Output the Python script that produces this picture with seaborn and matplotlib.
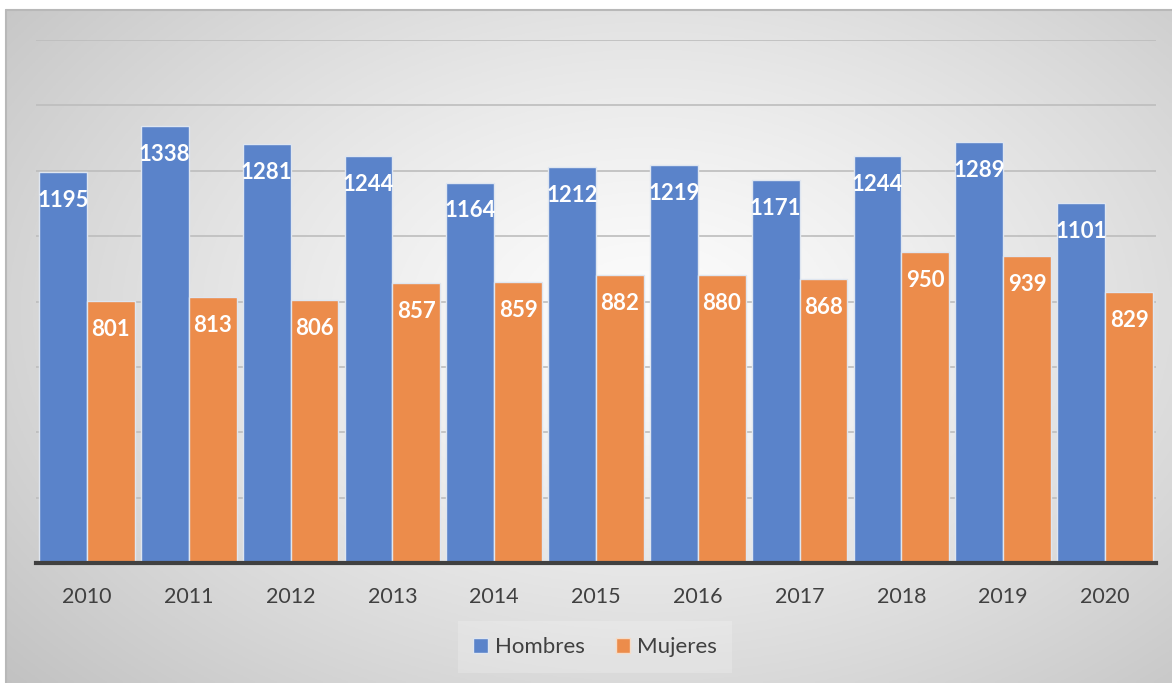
import numpy as np
import pandas as pd
import matplotlib
matplotlib.use("Agg")
import matplotlib.pyplot as plt
import seaborn as sns
from matplotlib.patches import Patch

years = ["2010", "2011", "2012", "2013", "2014", "2015", "2016", "2017", "2018", "2019", "2020"]
hombres = [1195, 1338, 1281, 1244, 1164, 1212, 1219, 1171, 1244, 1289, 1101]
mujeres = [801, 813, 806, 857, 859, 882, 880, 868, 950, 939, 829]
series_names = ["Hombres", "Mujeres"]

BLUE = "#5A83CA"
ORANGE = "#EC8C4B"
TEXT = "#404040"

df = pd.DataFrame({
    "year": years * 2,
    "value": hombres + mujeres,
    "sex": [series_names[0]] * len(years) + [series_names[1]] * len(years),
})

sns.set_theme(style="white")
plt.rcParams["font.family"] = ["Lato", "DejaVu Sans"]

W, H = 1172, 683
fig = plt.figure(figsize=(W / 100, H / 100), dpi=100)
fig.patch.set_facecolor("white")

# background radial gradient
bg = fig.add_axes([6 / W, 0, 1 - 6 / W, (H - 10) / H], zorder=0)
nx, ny = 400, 240
xx, yy = np.meshgrid(np.linspace(0, 1, nx), np.linspace(0, 1, ny))
cx, cy = 0.55, 0.45
d = np.sqrt(((xx - cx) / 0.75) ** 2 + ((yy - cy) / 0.85) ** 2)
d = np.clip(d, 0, 1.0)
v = 252 - (252 - 192) * d ** 1.3
img = np.dstack([v, v, v]) / 255.0
bg.imshow(img, aspect="auto", extent=[0, 1, 0, 1], origin="upper")
bg.set_axis_off()
bg.plot([0, 1], [1, 1], color="#b8b8b8", lw=1.5, transform=bg.transAxes, clip_on=False)
bg.plot([0, 0], [0, 1], color="#b8b8b8", lw=1.5, transform=bg.transAxes, clip_on=False)

ax = fig.add_axes([36 / W, (H - 563) / H, (1156 - 36) / W, (563 - 40) / H], zorder=1)
ax.patch.set_alpha(0)

sns.barplot(data=df, x="year", y="value", hue="sex", palette=[BLUE, ORANGE],
            width=0.94, saturation=1, edgecolor="#dfe6f0", linewidth=1.0,
            ax=ax, legend=False, zorder=2)

ax.set_ylim(0, 1600)
ax.set_xlim(-0.5, len(years) - 0.5)
ax.set_yticks(np.arange(0, 1601, 200))
ax.yaxis.grid(True, color="#bdbdbd", lw=1.2, zorder=0)
ax.set_axisbelow(True)
ax.set_yticklabels([])
ax.tick_params(axis="y", length=0)
ax.tick_params(axis="x", length=0, pad=17, labelsize=15.5, labelcolor=TEXT)
ax.set_xlabel("")
ax.set_ylabel("")
for s in ["top", "right", "left"]:
    ax.spines[s].set_visible(False)
ax.spines["bottom"].set_color(TEXT)
ax.spines["bottom"].set_linewidth(3)
ax.spines["bottom"].set_zorder(5)

for cont in ax.containers:
    for bar in cont:
        h = bar.get_height()
        ax.annotate(f"{int(round(h))}", (bar.get_x() + bar.get_width() / 2, h),
                    xytext=(0, -20.5), textcoords="offset points",
                    ha="center", va="center", color="white",
                    fontsize=16, fontweight="bold", zorder=6)

handles = [Patch(facecolor=BLUE, edgecolor="#dfe6f0", label=series_names[0]),
           Patch(facecolor=ORANGE, edgecolor="#f5dcc8", label=series_names[1])]
leg = fig.legend(handles=handles, loc="center", bbox_to_anchor=(595 / W, 1 - 647 / H),
                 ncol=2, frameon=True, fontsize=16, handlelength=0.65, handleheight=0.65,
                 handletextpad=0.3, columnspacing=1.4, borderpad=0.7)
leg.get_frame().set_facecolor("white")
leg.get_frame().set_alpha(0.2)
leg.get_frame().set_edgecolor("none")
leg.get_frame().set_boxstyle("square", pad=0)
for t in leg.get_texts():
    t.set_color(TEXT)

fig.savefig("out.png", dpi=100)
